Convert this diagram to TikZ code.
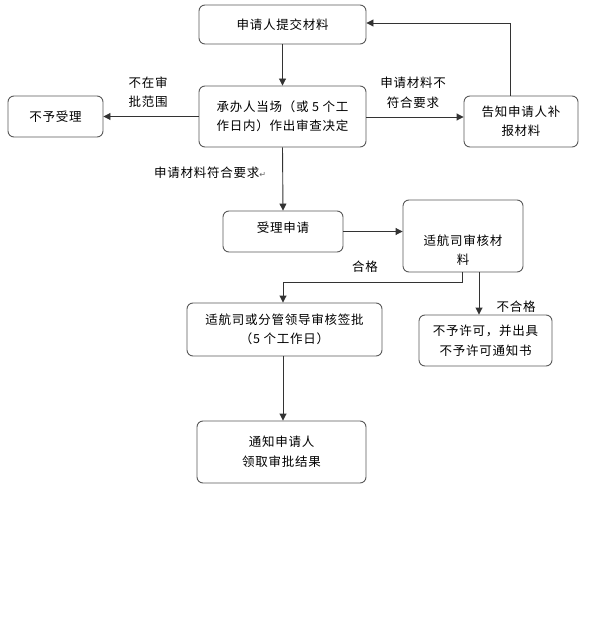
\documentclass[tikz,border=0pt]{standalone}
\usepackage{fontspec}
\setmainfont[LetterSpace=6]{Noto Sans CJK SC}
\newfontfamily\symfont{DejaVu Sans}
\usetikzlibrary{arrows.meta}
\tikzset{
  box/.style={draw=black!65, line width=0.9pt, rounded corners=6pt, align=center,
    font=\fontsize{12.5}{19.5}\selectfont, inner sep=0pt},
  conn/.style={draw=black!80, line width=0.9pt, -{Triangle[length=7pt,width=7pt]}},
  lbl/.style={align=center, font=\fontsize{12.5}{19.5}\selectfont, inner sep=0pt}
}
\begin{document}
\begin{tikzpicture}[x=1pt,y=-1pt]
\useasboundingbox[fill=white] (0,0) rectangle (588,620);
\node[box, minimum width=167pt, minimum height=39pt] (submit) at (282.5,24.5) {申请人提交材料};
\node[box, minimum width=167pt, minimum height=61pt] (decide) at (282.5,116.5) {承办人当场（或 5 个工\\作日内）作出审查决定};
\node[box, minimum width=95pt, minimum height=41pt] (reject) at (55.5,116.5) {不予受理};
\node[box, minimum width=114pt, minimum height=51pt] (notify) at (521,121.5) {告知申请人补\\报材料};
\node[box, minimum width=120pt, minimum height=41pt] (accept) at (283,231.5) {};
\node[lbl] (accepttxt) at (283,228) {受理申请};
\node[box, minimum width=120pt, minimum height=72pt] (review) at (463,236) {};
\node[lbl] (reviewtxt) at (463,250) {适航司审核材\\料};
\node[box, minimum width=195pt, minimum height=53pt] (sign) at (284.5,329.5) {适航司或分管领导审核签批\\（5 个工作日）};
\node[box, minimum width=169pt, minimum height=62pt] (result) at (281.5,452) {通知申请人\\领取审批结果};
\node[box, minimum width=133pt, minimum height=51pt] (deny) at (485.5,340.5) {不予许可，并出具\\不予许可通知书};

\coordinate (c1) at (510,23);
\coordinate (c2) at (462,282);
\coordinate (c3) at (283,282);

\draw[conn] (submit.south) -- (decide.north);
\draw[conn] (decide.west) -- (reject.east);
\draw[conn] (decide.east |- 0,117) -- (notify.west |- 0,117);
\draw[conn] (notify.north -| c1) -- (c1) -- (submit.east |- c1);
\draw[conn] (decide.south) -- (accept.north);
\draw[conn] (accept.east) -- (review.west |- accept.east);
\draw[conn] (review.south -| c2) -- (c2) -- (c3) -- (sign.north -| c3);
\draw[conn] (review.south -| 479,0) -- (deny.north -| 479,0);
\draw[conn] (sign.south -| 283,0) -- (result.north -| 283,0);

\node[lbl] (l1) at (148,92) {不在审\\批范围};
\node[lbl] (l2) at (413,93) {申请材料不\\符合要求};
\node[lbl, anchor=west] (l3) at (154,173) {申请材料符合要求{\symfont\fontsize{8}{8}\selectfont\color{black!60}↵}};
\node[lbl] (l4) at (365,267) {合格};
\node[lbl] (l5) at (516,307) {不合格};
\end{tikzpicture}
\end{document}
